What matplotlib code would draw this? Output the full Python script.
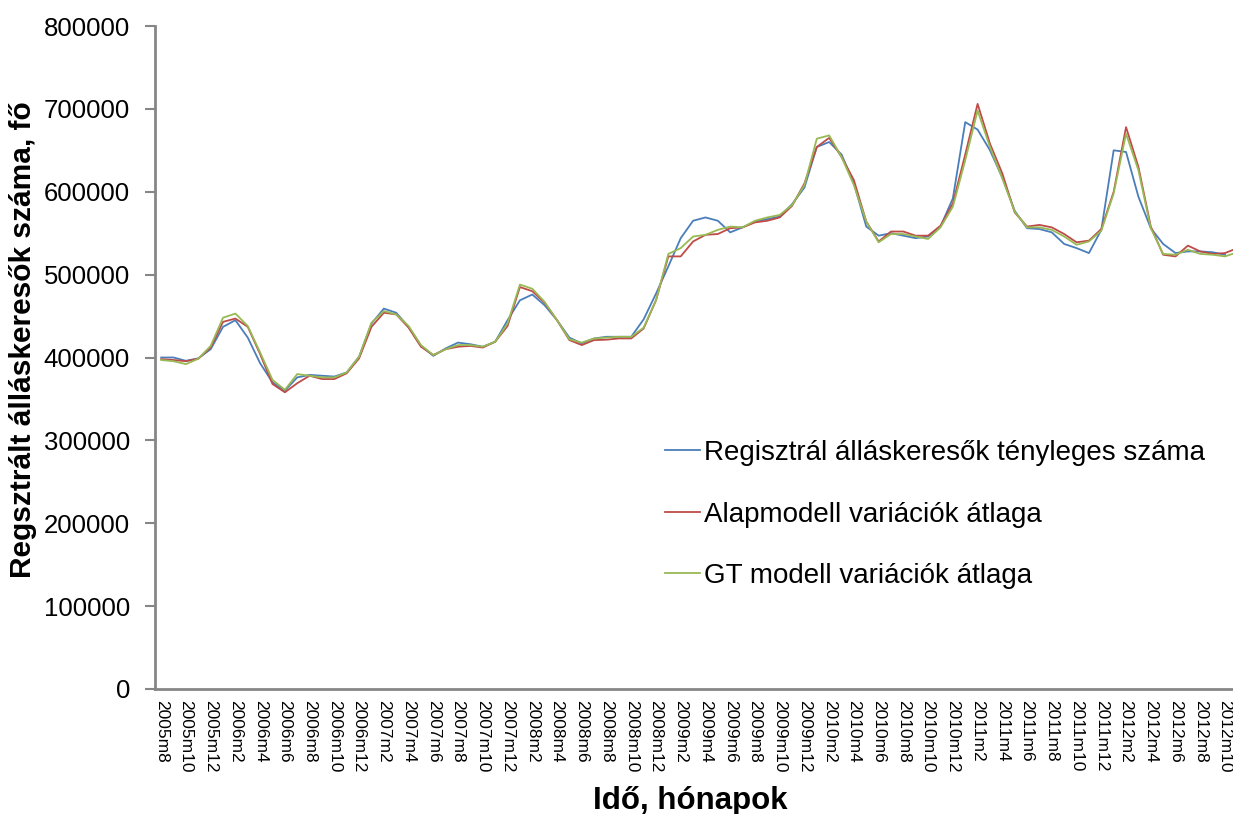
import matplotlib
matplotlib.use("Agg")
import matplotlib.pyplot as plt
from matplotlib.ticker import MultipleLocator

plt.rcParams['font.family'] = ['Liberation Sans', 'DejaVu Sans']

# Categories: monthly from 2005m8 to 2012m11
start_year, start_month, n_months = 2005, 8, 88
categories = []
for k in range(n_months):
    m = start_month - 1 + k
    categories.append(f"{start_year + m // 12}m{m % 12 + 1}")

actual = [400000, 400000, 396000, 399000, 410000, 437000, 445000, 424000, 393000, 370000,
          360000, 376000, 379000, 378000, 377000, 382000, 401000, 441000, 459000, 454000,
          437000, 414000, 402000, 411000, 418000, 416000, 413000, 419000, 445000, 469000,
          476000, 463000, 445000, 424000, 417000, 423000, 425000, 425000, 425000, 446000,
          477000, 510000, 544000, 565000, 569000, 565000, 551000, 557000, 564000, 567000,
          570000, 585000, 605000, 654000, 660000, 645000, 610000, 558000, 547000, 550000,
          547000, 544000, 546000, 558000, 592000, 684000, 675000, 650000, 617000, 577000,
          556000, 555000, 551000, 537000, 532000, 526000, 554000, 650000, 648000, 594000,
          556000, 537000, 526000, 528000, 528000, 527000, 524000]

base_model = [398000, 397000, 395500, 398500, 412000, 443000, 447000, 437000, 404000, 368000,
              358000, 369000, 378000, 374000, 374000, 381000, 399000, 437000, 454000, 452000,
              436000, 413000, 403000, 410000, 413000, 414000, 412000, 419000, 438000, 485000,
              480000, 466000, 445000, 421000, 415000, 421000, 421500, 423000, 423000, 435000,
              469000, 522000, 522000, 540000, 548000, 549000, 556000, 557000, 563000, 565000,
              569000, 583000, 610000, 654000, 665000, 642000, 614000, 564000, 540000, 552000,
              552000, 547000, 547000, 559000, 586000, 645000, 706000, 658000, 622000, 575000,
              558000, 560000, 557000, 549000, 539000, 541000, 555000, 600000, 678000, 630000,
              558000, 524000, 522000, 535000, 528000, 525000, 526000, 532000]

gt_model = [397000, 395500, 392000, 398500, 414000, 448000, 453000, 438000, 406000, 373000,
            361000, 380000, 378000, 376000, 376000, 382000, 401000, 442000, 456000, 452000,
            438000, 415000, 403000, 410000, 415000, 415000, 413000, 419000, 441000, 488000,
            483000, 467000, 445000, 422000, 418000, 423000, 424000, 425000, 425000, 436000,
            469000, 525000, 532000, 546000, 548000, 554000, 558000, 557000, 565000, 569000,
            572000, 584000, 608000, 664000, 668000, 642000, 608000, 564000, 539000, 549000,
            549000, 546000, 543000, 557000, 582000, 638000, 698000, 654000, 616000, 576000,
            557000, 557000, 554000, 546000, 536000, 540000, 553000, 598000, 670000, 626000,
            556000, 525000, 524000, 530000, 525000, 524000, 522000, 527000]

series_names = ["Regisztrál álláskeresők tényleges száma",
                "Alapmodell variációk átlaga",
                "GT modell variációk átlaga"]
series_colors = ["#4A7EBB", "#BE4B48", "#98B954"]

W, H = 1233, 814
fig = plt.figure(figsize=(W / 100, H / 100), dpi=100)
left_px, right_px, top_px, bottom_px = 155, 155 + 88 * 12.37, 26, 689
ax = fig.add_axes([left_px / W, 1 - bottom_px / H,
                   (right_px - left_px) / W, (bottom_px - top_px) / H])

x_actual = list(range(len(actual)))
x_base = list(range(len(base_model)))
x_gt = list(range(len(gt_model)))
ax.plot(x_actual, actual, color=series_colors[0], lw=1.3, label=series_names[0])
ax.plot(x_base, base_model, color=series_colors[1], lw=1.3, label=series_names[1])
ax.plot(x_gt, gt_model, color=series_colors[2], lw=1.3, label=series_names[2])

ax.set_xlim(-0.5, n_months - 0.5)
ax.set_ylim(0, 800000)
ax.yaxis.set_major_locator(MultipleLocator(100000))
ax.yaxis.set_major_formatter(matplotlib.ticker.FuncFormatter(lambda v, p: f"{int(v)}"))

tick_pos = list(range(0, n_months, 2))
ax.set_xticks(tick_pos)
ax.set_xticklabels([categories[k] for k in tick_pos], rotation=-90, fontsize=12.5,
                   va='top', ha='center')
ax.tick_params(axis='x', length=0, pad=8)
ax.tick_params(axis='y', length=7, width=1.5, color='#868686', labelsize=18.5, pad=11)

for s in ['top', 'right']:
    ax.spines[s].set_visible(False)
for s in ['left', 'bottom']:
    ax.spines[s].set_color('#868686')
    ax.spines[s].set_linewidth(2)

ax.set_xlabel("Idő, hónapok", fontsize=22.5, fontweight='bold')
ax.xaxis.set_label_coords((690 - left_px) / (right_px - left_px), (bottom_px - 786) / (bottom_px - top_px))
ax.set_ylabel("Regsztrált álláskeresők száma, fő", fontsize=21.5, fontweight='bold')
ax.yaxis.set_label_coords((37 - left_px) / (right_px - left_px), (bottom_px - 340) / (bottom_px - top_px))

leg = ax.legend(loc='upper left', bbox_to_anchor=(665 / W, 1 - 440 / H),
                bbox_transform=fig.transFigure, frameon=False, fontsize=20,
                handlelength=1.25, handletextpad=0.15, labelspacing=1.28,
                borderpad=0, borderaxespad=0)

fig.savefig("out.png", dpi=100)
